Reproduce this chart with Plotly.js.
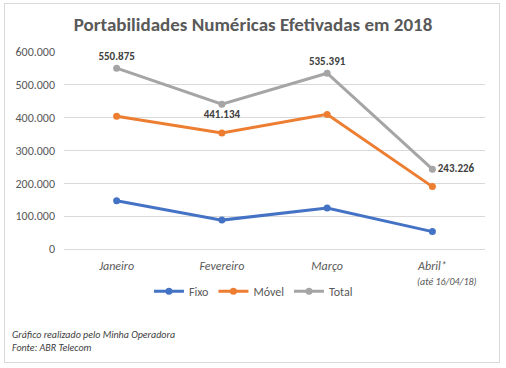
<!DOCTYPE html>
<html><head><meta charset="utf-8">
<script src="https://cdn.plot.ly/plotly-3.0.1.min.js"></script>
<style>body{margin:0;background:#fff}#c{width:506px;height:368px;position:absolute;left:0;top:0}
#b{position:absolute;left:4px;top:3px;width:494px;height:358px;border:1px solid #d9d9d9;pointer-events:none}</style>
</head><body><div id="c"></div><div id="b"></div>
<script>
const categories = ['Janeiro','Fevereiro','Março','Abril*'];
const fixo = [147000, 88000, 125000, 53000];
const movel = [404000, 353000, 410000, 190000];
const total = [550875, 441134, 535391, 243226];
const yTicks = [0,100000,200000,300000,400000,500000,600000];

const F = 'Carlito, Calibri, "Open Sans", sans-serif';
function tr(name, y, color){
  return {x: categories, y: y, name: name, type: 'scatter', mode: 'lines+markers',
    line: {color: color, width: 3}, marker: {color: color, size: 7}};
}
const t3 = tr('Total', total, '#a5a5a5');
t3.mode = 'lines+markers+text';
t3.texttemplate = '%{y:,.0f}';
t3.textposition = ['top center','bottom center','top center','middle right'];
t3.textfont = {family: F, size: 11, color: '#404040', weight: 'bold'};
const data = [tr('Fixo', fixo, '#4472c4'), tr('Móvel', movel, '#ed7d31'), t3];
const layout = {
  width: 506, height: 368, separators: ',.',
  margin: {l: 64, r: 21, t: 52, b: 119},
  paper_bgcolor: '#fff', plot_bgcolor: '#fff',
  font: {family: F, color: '#595959', size: 12},
  title: {text: 'Portabilidades Numéricas Efetivadas em 2018', x: 0.5, xanchor: 'center', y: 0.935, yanchor: 'middle',
    font: {family: F, size: 19, color: '#595959', weight: 'bold'}},
  xaxis: {type: 'category', range: [-0.5, 3.5], showgrid: false, zeroline: false, showline: false, ticks: '',
    ticklabelstandoff: 8,
    tickfont: {family: F, size: 12, color: '#595959', style: 'italic'}, fixedrange: true},
  yaxis: {range: [0, 600000], tickvals: yTicks, tickformat: ',.0f', gridcolor: '#d9d9d9', gridwidth: 1,
    zeroline: true, zerolinecolor: '#d9d9d9', zerolinewidth: 1, showline: false, ticks: '', ticklabelstandoff: 8,
    tickfont: {family: F, size: 12, color: '#595959'}},
  showlegend: true,
  legend: {orientation: 'h', x: 0.45, xanchor: 'center', y: -0.215, yanchor: 'middle',
    font: {family: F, size: 12, color: '#595959'}, itemwidth: 30, tracegroupgap: 0},
  annotations: [
    {text: '(até 16/04/18)', xref: 'paper', yref: 'paper', x: 0.91, y: -0.165, xanchor: 'center', yanchor: 'middle',
      showarrow: false, font: {family: F, size: 10, color: '#595959', style: 'italic'}},
    {text: 'Gráfico realizado pelo Minha Operadora', xref: 'paper', yref: 'paper', x: -0.128, y: -0.435, xanchor: 'left', yanchor: 'middle',
      showarrow: false, font: {family: F, size: 10, color: '#404040', style: 'italic'}},
    {text: 'Fonte: ABR Telecom', xref: 'paper', yref: 'paper', x: -0.128, y: -0.5, xanchor: 'left', yanchor: 'middle',
      showarrow: false, font: {family: F, size: 10, color: '#404040', style: 'italic'}}
  ]
};
Plotly.newPlot('c', data, layout, {displayModeBar: false, staticPlot: true});
</script></body></html>
